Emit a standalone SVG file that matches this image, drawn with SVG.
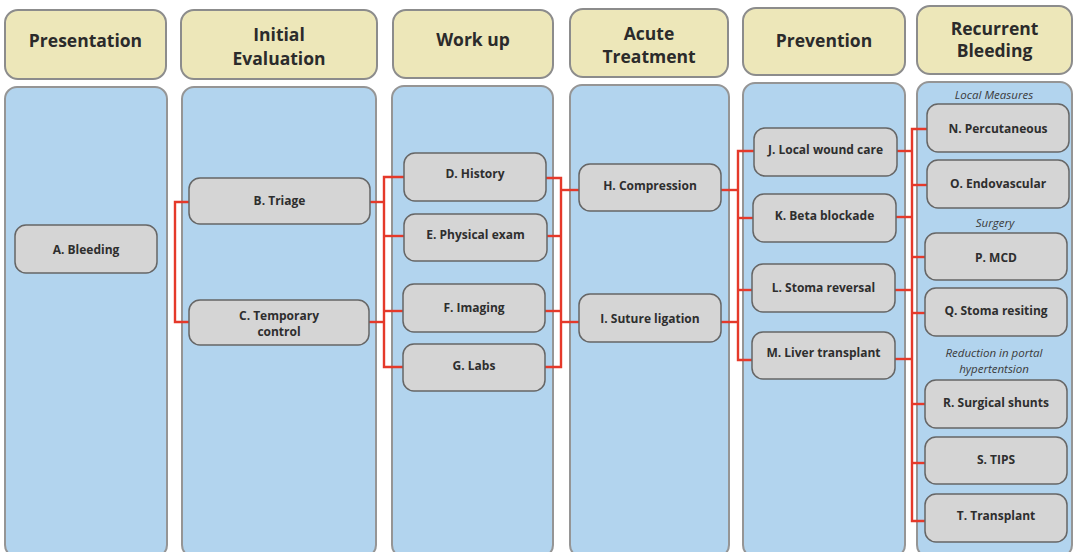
<svg xmlns="http://www.w3.org/2000/svg" width="1075" height="552" viewBox="0 0 1075 552">
<style>
.hdr{fill:#EDE7B9;stroke:#8C8C8C;stroke-width:2}
.body{fill:#B2D4EE;stroke:#959595;stroke-width:2}
.node{fill:#D5D5D5;stroke:#666;stroke-width:1.5}
.ht{font-family:"Open Sans","Noto Sans",sans-serif;font-weight:700;font-size:17.5px;fill:#2B2B2B;text-anchor:middle}
.nt{font-family:"Open Sans","Noto Sans",sans-serif;font-weight:700;font-size:12px;fill:#2E2E2E;text-anchor:middle}
.it{font-family:"Open Sans","Noto Sans",sans-serif;font-style:italic;font-size:11.5px;fill:#3A3A3A;text-anchor:middle}
.con{fill:none;stroke:#E5392A;stroke-width:2.4}
</style>
<rect width="1075" height="552" fill="#FFFFFF"/>
<g id="col-presentation">
<rect class="hdr" x="5" y="10" width="161" height="69" rx="13"/>
<text class="ht" x="85.5" y="47">Presentation</text>
<rect class="body" x="5" y="87" width="162" height="470" rx="12"/>
</g>
<g id="col-initial">
<rect class="hdr" x="181" y="10" width="196" height="69" rx="13"/>
<text class="ht" x="279" y="41">Initial</text>
<text class="ht" x="279" y="65">Evaluation</text>
<rect class="body" x="182" y="87" width="194" height="470" rx="12"/>
</g>
<g id="col-workup">
<rect class="hdr" x="393" y="10" width="160" height="68" rx="13"/>
<text class="ht" x="473" y="46">Work up</text>
<rect class="body" x="392" y="86" width="161" height="471" rx="12"/>
</g>
<g id="col-acute">
<rect class="hdr" x="570" y="9" width="158" height="68" rx="13"/>
<text class="ht" x="649" y="40">Acute</text>
<text class="ht" x="649" y="63">Treatment</text>
<rect class="body" x="570" y="85" width="159" height="472" rx="12"/>
</g>
<g id="col-prevention">
<rect class="hdr" x="743" y="8" width="162" height="67" rx="13"/>
<text class="ht" x="824" y="47">Prevention</text>
<rect class="body" x="743" y="83" width="162" height="474" rx="12"/>
</g>
<g id="col-recurrent">
<rect class="hdr" x="917" y="6" width="155" height="68" rx="13"/>
<text class="ht" x="994.5" y="35">Recurrent</text>
<text class="ht" x="994.5" y="57">Bleeding</text>
<rect class="body" x="917" y="82" width="155" height="475" rx="12"/>
<text class="it" x="994" y="99">Local Measures</text>
<text class="it" x="995" y="227">Surgery</text>
<text class="it" x="994" y="357">Reduction in portal</text>
<text class="it" x="994" y="373">hypertentsion</text>
</g>
<g id="connectors">
<polyline class="con" points="189,202 175,202 175,322 189,322"/>
<polyline class="con" points="370,202 384,202"/>
<polyline class="con" points="369,322 384,322"/>
<polyline class="con" points="404,177 384,177 384,367 403,367"/>
<polyline class="con" points="384,236 404,236"/>
<polyline class="con" points="384,311 403,311"/>
<polyline class="con" points="546,178 561,178 561,367 545,367"/>
<polyline class="con" points="547,236 561,236"/>
<polyline class="con" points="545,311 561,311"/>
<polyline class="con" points="561,190 579,190"/>
<polyline class="con" points="561,322 579,322"/>
<polyline class="con" points="721,190 738,190"/>
<polyline class="con" points="721,322 738,322"/>
<polyline class="con" points="754,151 738,151 738,360 752,360"/>
<polyline class="con" points="738,218 753,218"/>
<polyline class="con" points="738,290 752,290"/>
<polyline class="con" points="897,151 912,151"/>
<polyline class="con" points="896,217 912,217"/>
<polyline class="con" points="895,290 912,290"/>
<polyline class="con" points="895,359 912,359"/>
<polyline class="con" points="927,129 912,129 912,521 925,521"/>
<polyline class="con" points="912,185 927,185"/>
<polyline class="con" points="912,257 925,257"/>
<polyline class="con" points="912,313 925,313"/>
<polyline class="con" points="912,404 925,404"/>
<polyline class="con" points="912,463 925,463"/>
</g>
<g id="node-A"><rect class="node" x="15" y="225" width="142" height="48" rx="11"/><text class="nt" x="86" y="254">A. Bleeding</text></g>
<g id="node-B"><rect class="node" x="189" y="178" width="181" height="46" rx="11"/><text class="nt" x="279.5" y="205">B. Triage</text></g>
<g id="node-C"><rect class="node" x="189" y="300" width="180" height="45" rx="11"/><text class="nt" x="279" y="320">C. Temporary</text><text class="nt" x="279" y="336">control</text></g>
<g id="node-D"><rect class="node" x="404" y="153" width="142" height="48" rx="11"/><text class="nt" x="475" y="178">D. History</text></g>
<g id="node-E"><rect class="node" x="404" y="214" width="143" height="47" rx="11"/><text class="nt" x="475.5" y="239">E. Physical exam</text></g>
<g id="node-F"><rect class="node" x="403" y="284" width="142" height="48" rx="11"/><text class="nt" x="474" y="312">F. Imaging</text></g>
<g id="node-G"><rect class="node" x="403" y="344" width="142" height="47" rx="11"/><text class="nt" x="474" y="370">G. Labs</text></g>
<g id="node-H"><rect class="node" x="579" y="164" width="142" height="47" rx="11"/><text class="nt" x="650" y="190">H. Compression</text></g>
<g id="node-I"><rect class="node" x="579" y="294" width="142" height="48" rx="11"/><text class="nt" x="650" y="323">I. Suture ligation</text></g>
<g id="node-J"><rect class="node" x="754" y="128" width="143" height="48" rx="11"/><text class="nt" x="825.5" y="154">J. Local wound care</text></g>
<g id="node-K"><rect class="node" x="753" y="194" width="143" height="48" rx="11"/><text class="nt" x="824.5" y="220">K. Beta blockade</text></g>
<g id="node-L"><rect class="node" x="752" y="264" width="143" height="48" rx="11"/><text class="nt" x="823.5" y="292">L. Stoma reversal</text></g>
<g id="node-M"><rect class="node" x="752" y="332" width="143" height="47" rx="11"/><text class="nt" x="823.5" y="357">M. Liver transplant</text></g>
<g id="node-N"><rect class="node" x="927" y="104" width="142" height="48" rx="11"/><text class="nt" x="998" y="133">N. Percutaneous</text></g>
<g id="node-O"><rect class="node" x="927" y="160" width="142" height="48" rx="11"/><text class="nt" x="998" y="188">O. Endovascular</text></g>
<g id="node-P"><rect class="node" x="925" y="233" width="142" height="47" rx="11"/><text class="nt" x="996" y="262">P. MCD</text></g>
<g id="node-Q"><rect class="node" x="925" y="288" width="142" height="48" rx="11"/><text class="nt" x="996" y="315">Q. Stoma resiting</text></g>
<g id="node-R"><rect class="node" x="925" y="380" width="142" height="48" rx="11"/><text class="nt" x="996" y="407">R. Surgical shunts</text></g>
<g id="node-S"><rect class="node" x="925" y="437" width="142" height="47" rx="11"/><text class="nt" x="996" y="464">S. TIPS</text></g>
<g id="node-T"><rect class="node" x="925" y="494" width="142" height="48" rx="11"/><text class="nt" x="996" y="520">T. Transplant</text></g>
</svg>
